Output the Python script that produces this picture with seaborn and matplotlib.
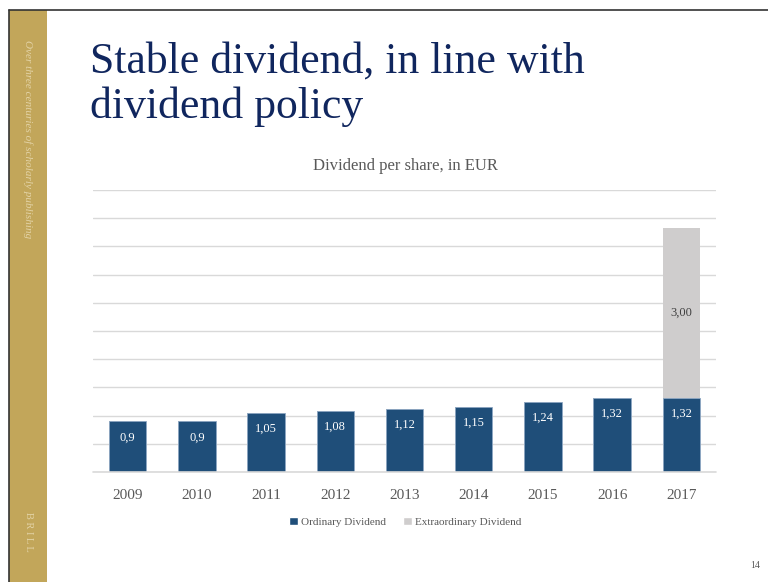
import seaborn as sns
import pandas as pd
import matplotlib.pyplot as plt
from matplotlib.patches import Patch, Rectangle
from matplotlib.lines import Line2D

# Dados
anos = ['2009', '2010', '2011', '2012', '2013', '2014', '2015', '2016', '2017']
ordinario = [0.9, 0.9, 1.05, 1.08, 1.12, 1.15, 1.24, 1.32, 1.32]
extraordinario = [0, 0, 0, 0, 0, 0, 0, 0, 3.00]
rotulos_ord = ['0,9', '0,9', '1,05', '1,08', '1,12', '1,15', '1,24', '1,32', '1,32']
rotulo_extra = '3,00'

dados = pd.DataFrame({'Ano': anos,
                      'Ordinario': ordinario,
                      'Extra': extraordinario})
dados['Total'] = dados['Ordinario'] + dados['Extra']

azul = '#1F4E79'
cinza = '#CFCDCD'
dourado = '#C2A65A'
navy = '#10265E'
texto = '#595959'

sns.set_style('white')
plt.rcParams['font.family'] = ['Liberation Serif', 'DejaVu Serif']

fig = plt.figure(figsize=(7.68, 5.82), dpi=100)

# Moldura e barra lateral
fig.add_artist(Rectangle((9 / 768, 0), 38 / 768, 1 - 10 / 582, transform=fig.transFigure,
                         facecolor=dourado, edgecolor='none'))
fig.add_artist(Line2D([8.5 / 768, 8.5 / 768], [0, 1 - 9.5 / 582], transform=fig.transFigure,
                      color='#333333', lw=1.2))
fig.add_artist(Line2D([8.5 / 768, 1], [1 - 9.5 / 582, 1 - 9.5 / 582], transform=fig.transFigure,
                      color='#333333', lw=1.2))
fig.text(28 / 768, 1 - 40 / 582, 'Over three centuries of scholarly publishing', rotation=270,
         ha='center', va='top', fontsize=8, style='italic', color='#E3D3A6')
fig.text(28 / 768, 1 - 512 / 582, 'B R I L L', rotation=270, ha='center', va='top',
         fontsize=7.5, color='#E3D3A6')

# Títulos
fig.text(90 / 768, 1 - 73 / 582, 'Stable dividend, in line with', fontsize=31.5, color=navy,
         ha='left', va='baseline')
fig.text(90 / 768, 1 - 118 / 582, 'dividend policy', fontsize=31.5, color=navy,
         ha='left', va='baseline')
fig.text(405 / 768, 1 - 166 / 582, 'Dividend per share, in EUR', fontsize=12, color=texto,
         ha='center', va='center')
fig.text(760 / 768, 1 - 566 / 582, '14', fontsize=7, color=texto, ha='right', va='center')

# Gráfico
ax = fig.add_axes([93 / 768, 1 - 472 / 582, 623 / 768, 282 / 582])
sns.barplot(x='Ano', y='Total', data=dados, color=cinza, width=0.54, ax=ax,
            saturation=1, edgecolor='none', zorder=2)
sns.barplot(x='Ano', y='Ordinario', data=dados, color=azul, width=0.54, ax=ax,
            saturation=1, edgecolor='#8FA8C4', linewidth=0.6, zorder=3)

ax.set_ylim(0, 5)
ax.set_yticks([i * 0.5 for i in range(11)])
ax.yaxis.grid(True, color='#D9D9D9', lw=1)
ax.axhline(0, color='#D9D9D9', lw=1.2, clip_on=False, zorder=4)
ax.set_axisbelow(True)
ax.set_yticklabels([])
ax.tick_params(axis='y', length=0)
ax.tick_params(axis='x', length=0, labelsize=11, labelcolor=texto, pad=12)
ax.set_xlabel('')
ax.set_ylabel('')
sns.despine(ax=ax, left=True, bottom=True)

for i, (v, r) in enumerate(zip(ordinario, rotulos_ord)):
    ax.annotate(r, (i, v), xytext=(0, -16), textcoords='offset pixels',
                ha='center', va='center', color='white', fontsize=9, zorder=5)
i_extra = extraordinario.index(3.00)
ax.text(i_extra, ordinario[i_extra] + extraordinario[i_extra] / 2, rotulo_extra,
        ha='center', va='center', color='#404040', fontsize=9, zorder=5)

# Legenda
handles = [Patch(facecolor=azul, label='Ordinary Dividend'),
           Patch(facecolor=cinza, label='Extraordinary Dividend')]
fig.legend(handles=handles, loc='center', bbox_to_anchor=(405 / 768, 1 - 522 / 582),
           ncol=2, frameon=False, fontsize=8, labelcolor=texto, handlelength=0.8,
           handleheight=0.8, handletextpad=0.3, columnspacing=1.5)

plt.savefig('out.png', dpi=100)
